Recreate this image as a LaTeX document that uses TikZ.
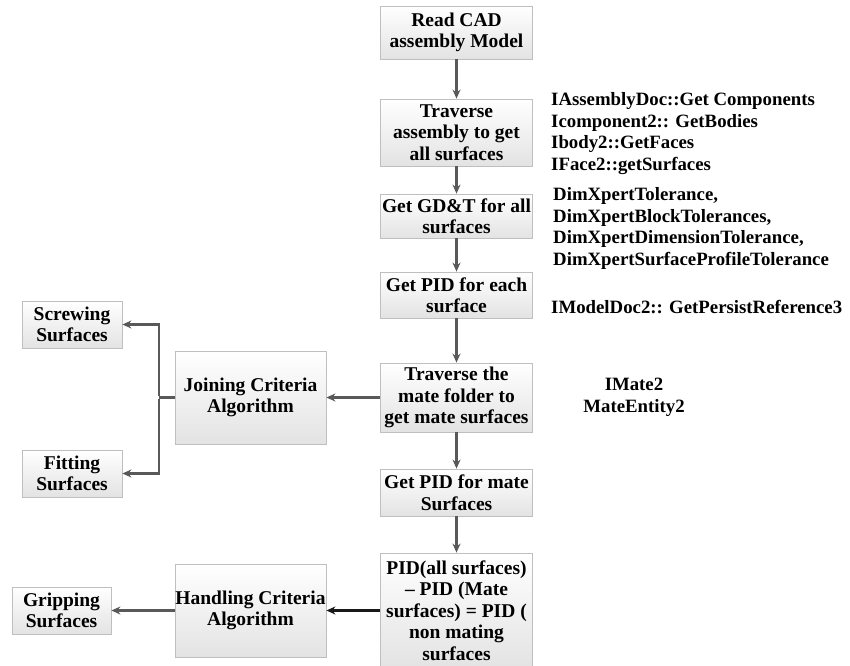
\documentclass[tikz,border=0pt]{standalone}
\usepackage{fontspec}
\setmainfont{Liberation Serif}
\usetikzlibrary{arrows.meta}
\newcommand{\myboxfont}{\fontsize{19.5}{21.5}\selectfont\bfseries}
\newcommand{\myannofont}{\fontsize{18.8}{21.5}\selectfont\bfseries}
\begin{document}
\begin{tikzpicture}[x=1pt,y=-1pt,
  box/.style={draw=black!25, line width=0.8pt, shading=axis, top color=white, bottom color=black!11, inner sep=0pt, align=center, font=\myboxfont},
  mainbox/.style={box, minimum width=152pt},
  leftbox/.style={box, minimum width=100pt, minimum height=47pt},
  algbox/.style={box, minimum width=151pt, minimum height=93pt},
  anno/.style={inner sep=0pt, font=\myannofont},
  conn/.style={draw=black!65, line width=2.3pt, -{Stealth[length=9pt,width=8pt]}},
  connk/.style={conn, draw=black!90},
  plain/.style={draw=black!65, line width=2.3pt}
]
\useasboundingbox (0,0) rectangle (850,665);
\clip (0,0) rectangle (850,665);

% main column
\node[mainbox, minimum height=53pt] (read) at (456.5,32.5) {Read CAD\\assembly Model};
\node[mainbox, minimum height=67pt] (trav) at (456.5,132.5) {Traverse\\assembly to get\\all surfaces};
\node[mainbox, minimum height=44pt] (gdt) at (456.5,216) {Get GD\&T for all\\surfaces};
\node[mainbox, minimum height=46pt] (pidone) at (456.5,295) {Get PID for each\\surface};
\node[mainbox, minimum height=69pt] (mate) at (456.5,397.5) {Traverse the\\mate folder to\\get mate surfaces};
\node[mainbox, minimum height=47pt] (pidtwo) at (456.5,492.5) {Get PID for mate\\Surfaces};
\node[mainbox, minimum height=115pt] (nonm) at (456.5,610.5) {PID(all surfaces)\\– PID (Mate\\surfaces) = PID (\\non mating\\surfaces};

% left side
\node[algbox] (join) at (250.5,397.5) {Joining Criteria\\Algorithm};
\node[leftbox] (screw) at (72,324.5) {Screwing\\Surfaces};
\node[leftbox] (fit) at (72,473.5) {Fitting\\Surfaces};
\node[algbox] (handle) at (250.5,610.5) {Handling Criteria\\Algorithm};
\node[leftbox, minimum width=99pt] (grip) at (61.5,610.5) {Gripping\\Surfaces};

% annotations
\node[anno, anchor=west, align=left] (apione) at (551,133.5) {IAssemblyDoc::Get Components\\Icomponent2:: GetBodies\\Ibody2::GetFaces\\IFace2::getSurfaces};
\node[anno, anchor=west, align=left] (apitwo) at (553,228.5) {DimXpertTolerance,\\DimXpertBlockTolerances,\\DimXpertDimensionTolerance,\\DimXpertSurfaceProfileTolerance};
\node[anno, anchor=west, align=left] (apithree) at (551,307) {IModelDoc2:: GetPersistReference3};
\node[anno, align=center] (apifour) at (634,397.5) {IMate2\\MateEntity2};

% connectors
\draw[conn] (read) -- (trav);
\draw[conn] (trav) -- (gdt);
\draw[conn] (gdt) -- (pidone);
\draw[conn] (pidone) -- (mate);
\draw[conn] (mate) -- (pidtwo);
\draw[conn] (pidtwo) -- (nonm);
\draw[conn] (mate.west) -- (join.east);
\coordinate (jn) at (159,397.5);
\draw[plain] (join.west) -- (jn);
\draw[conn] ([yshift=1.15pt]jn) |- (screw.east);
\draw[conn] ([yshift=-1.15pt]jn) |- (fit.east);
\draw[connk] (nonm.west) -- (handle.east);
\draw[conn] (handle.west) -- (grip.east);
\end{tikzpicture}
\end{document}
